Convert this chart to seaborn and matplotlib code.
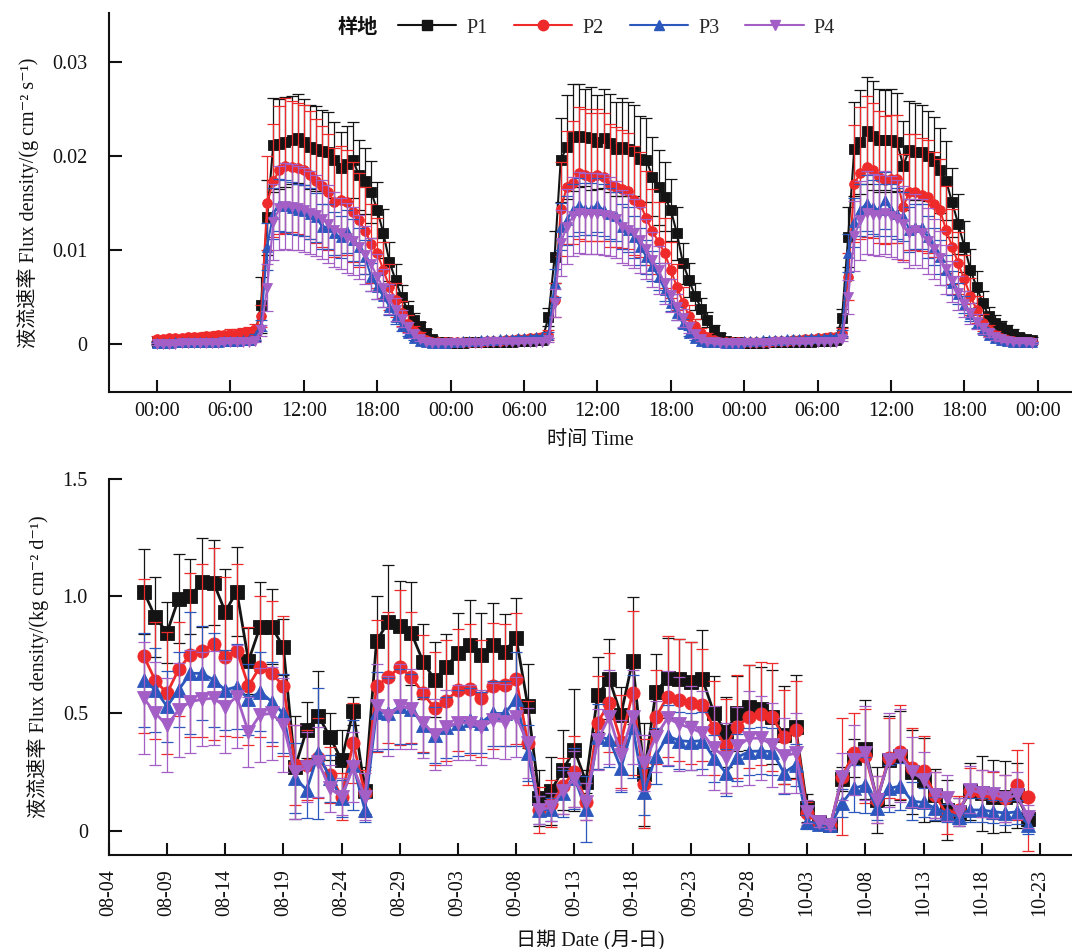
import numpy as np
import pandas as pd
import matplotlib
matplotlib.use("Agg")
import matplotlib.pyplot as plt
import matplotlib.dates as mdates
from matplotlib.lines import Line2D
import seaborn as sns

# ---------------------------------------------------------------------------
# Data
# ---------------------------------------------------------------------------
SITES = ["P1", "P2", "P3", "P4"]
LEGEND_TITLE = "样地"

# Half-hourly sap flux density over three days (units of 1e-4 g cm-2 s-1),
# 48 readings per day from 00:00 to 23:30.
P1_HALFHOUR = [
    2, 2, 2, 2, 3, 3, 3, 3, 3, 4, 4, 4, 4, 5, 5, 5,
    9, 42, 135, 212, 213, 215, 217, 219, 215, 210, 208, 206, 204, 196, 188, 192,
    196, 180, 174, 162, 143, 118, 88, 68, 50, 36, 26, 19, 12, 6, 3, 2,
    1, 1, 1, 2, 2, 2, 2, 3, 3, 3, 3, 4, 4, 4, 5, 5,
    29, 93, 196, 210, 220, 222, 220, 219, 215, 219, 214, 208, 210, 208, 206, 197,
    196, 178, 167, 157, 143, 118, 86, 68, 51, 38, 26, 15, 8, 4, 3, 2,
    1, 1, 1, 1, 2, 2, 2, 2, 3, 3, 3, 3, 4, 4, 4, 5,
    28, 114, 208, 215, 227, 222, 217, 217, 217, 215, 190, 207, 205, 204, 200, 195,
    185, 174, 151, 128, 104, 79, 61, 44, 30, 23, 18, 15, 11, 8, 6, 5,
]
P2_HALFHOUR = [
    6, 6, 7, 7, 7, 8, 8, 8, 9, 9, 10, 10, 11, 11, 12, 13,
    16, 30, 150, 174, 185, 190, 189, 187, 185, 180, 174, 168, 162, 151, 153, 151,
    141, 132, 121, 107, 97, 79, 61, 47, 33, 22, 14, 9, 5, 3, 2, 2,
    2, 2, 2, 3, 3, 3, 4, 4, 4, 5, 5, 6, 6, 7, 7, 8,
    10, 47, 144, 167, 172, 182, 180, 178, 180, 178, 169, 167, 165, 163, 153, 149,
    134, 120, 109, 97, 79, 61, 44, 30, 19, 12, 8, 5, 3, 2, 2, 2,
    2, 2, 3, 3, 3, 4, 4, 4, 5, 5, 6, 6, 7, 7, 8, 8,
    12, 72, 171, 182, 189, 185, 178, 175, 176, 176, 146, 162, 162, 159, 157, 149,
    143, 122, 104, 86, 69, 51, 37, 23, 15, 10, 7, 5, 4, 3, 3, 2,
]
P3_HALFHOUR = [
    1, 1, 1, 2, 2, 2, 2, 3, 3, 3, 3, 4, 4, 4, 5, 5,
    8, 20, 104, 139, 148, 147, 145, 143, 142, 139, 135, 125, 125, 118, 114, 120,
    111, 104, 93, 72, 61, 51, 40, 29, 19, 12, 7, 4, 2, 1, 1, 1,
    3, 3, 4, 4, 4, 5, 5, 5, 6, 6, 6, 7, 7, 7, 8, 8,
    10, 65, 125, 132, 143, 148, 144, 144, 148, 143, 139, 136, 125, 122, 114, 104,
    93, 83, 72, 58, 44, 33, 22, 12, 7, 4, 3, 2, 2, 1, 1, 1,
    4, 4, 4, 5, 5, 5, 5, 6, 6, 6, 6, 7, 7, 7, 8, 8,
    12, 97, 130, 143, 150, 146, 143, 153, 143, 139, 136, 122, 125, 125, 114, 104,
    93, 79, 65, 54, 42, 32, 22, 15, 10, 7, 5, 4, 3, 3, 2, 2,
]
P4_HALFHOUR = [
    0, 0, 0, 0, 1, 1, 1, 1, 1, 1, 1, 2, 2, 2, 2, 2,
    4, 15, 60, 130, 145, 147, 146, 145, 143, 140, 137, 133, 128, 122, 118, 113,
    110, 103, 95, 85, 72, 60, 48, 37, 27, 18, 11, 6, 3, 1, 1, 1,
    1, 1, 1, 1, 1, 1, 2, 2, 2, 2, 2, 2, 3, 3, 3, 3,
    5, 44, 108, 125, 136, 140, 139, 139, 139, 138, 136, 133, 125, 122, 118, 111,
    101, 90, 79, 65, 52, 40, 28, 18, 11, 6, 3, 2, 1, 1, 1, 1,
    1, 1, 1, 1, 1, 2, 2, 2, 2, 2, 2, 3, 3, 3, 3, 3,
    6, 50, 115, 132, 140, 138, 137, 140, 136, 133, 128, 118, 122, 118, 110, 101,
    92, 80, 67, 55, 43, 33, 24, 17, 12, 8, 6, 4, 3, 2, 2, 1,
]

# Standard deviations of the half-hourly values (units of 1e-4 g cm-2 s-1)
P1_HALFHOUR_SD = [
    2, 2, 2, 2, 2, 2, 2, 2, 3, 3, 3, 3, 3, 3, 3, 3,
    5, 30, 40, 50, 48, 48, 47, 47, 46, 45, 45, 43, 43, 40, 38, 40,
    40, 37, 35, 33, 30, 26, 21, 17, 13, 10, 7, 5, 4, 3, 2, 2,
    2, 2, 2, 2, 2, 2, 2, 3, 3, 3, 3, 3, 3, 3, 3, 3,
    10, 28, 45, 55, 57, 55, 52, 55, 50, 53, 52, 50, 52, 50, 48, 46,
    45, 42, 40, 37, 33, 28, 22, 18, 14, 11, 8, 6, 4, 3, 3, 2,
    2, 2, 2, 2, 2, 2, 2, 3, 3, 3, 3, 3, 3, 3, 3, 3,
    10, 32, 50, 55, 57, 58, 55, 53, 55, 52, 47, 52, 52, 50, 48, 47,
    45, 42, 37, 32, 27, 22, 17, 13, 10, 8, 7, 6, 5, 4, 4, 3,
]
P2_HALFHOUR_SD = [
    3, 3, 3, 3, 3, 3, 4, 4, 4, 4, 4, 4, 5, 5, 5, 5,
    6, 12, 50, 60, 68, 72, 70, 70, 70, 68, 66, 64, 62, 58, 58, 56,
    53, 50, 46, 42, 37, 30, 24, 18, 13, 9, 6, 4, 3, 2, 2, 2,
    2, 2, 2, 2, 2, 2, 2, 3, 3, 3, 3, 3, 3, 3, 4, 4,
    5, 18, 50, 60, 65, 70, 70, 68, 70, 68, 65, 64, 63, 62, 58, 56,
    50, 45, 42, 37, 30, 24, 17, 12, 8, 5, 4, 3, 2, 2, 2, 2,
    2, 2, 2, 2, 2, 2, 2, 3, 3, 3, 3, 3, 3, 3, 4, 4,
    5, 25, 62, 70, 75, 72, 70, 68, 68, 68, 56, 62, 62, 60, 60, 56,
    54, 46, 40, 33, 26, 20, 14, 9, 6, 4, 3, 2, 2, 2, 2, 2,
]
P3_HALFHOUR_SD = [
    2, 2, 2, 2, 2, 2, 2, 2, 2, 2, 2, 2, 2, 2, 2, 2,
    3, 6, 25, 27, 28, 28, 28, 27, 27, 27, 26, 24, 24, 23, 22, 23,
    22, 20, 18, 15, 13, 11, 9, 7, 5, 3, 2, 2, 1, 1, 1, 1,
    2, 2, 2, 2, 2, 2, 2, 2, 2, 2, 2, 2, 2, 2, 2, 2,
    3, 15, 25, 26, 28, 29, 28, 28, 29, 28, 27, 26, 24, 24, 22, 20,
    18, 16, 14, 12, 9, 7, 5, 3, 2, 2, 1, 1, 1, 1, 1, 1,
    2, 2, 2, 2, 2, 2, 2, 2, 2, 2, 2, 2, 2, 2, 2, 2,
    3, 20, 26, 28, 30, 29, 28, 30, 28, 27, 26, 24, 24, 24, 22, 20,
    18, 16, 13, 11, 9, 7, 5, 3, 2, 2, 2, 1, 1, 1, 1, 1,
]
P4_HALFHOUR_SD = [
    1, 1, 1, 1, 1, 1, 1, 1, 1, 1, 1, 1, 1, 1, 1, 1,
    2, 6, 25, 40, 45, 46, 46, 45, 45, 44, 43, 42, 41, 40, 38, 37,
    36, 34, 31, 28, 24, 20, 16, 12, 9, 6, 4, 2, 1, 1, 1, 1,
    1, 1, 1, 1, 1, 1, 1, 1, 1, 1, 1, 1, 1, 1, 1, 1,
    2, 15, 35, 40, 42, 43, 43, 43, 43, 43, 42, 41, 39, 38, 37, 35,
    32, 29, 26, 22, 18, 14, 10, 6, 4, 2, 1, 1, 1, 1, 1, 1,
    1, 1, 1, 1, 1, 1, 1, 1, 1, 1, 1, 1, 1, 1, 1, 1,
    2, 18, 37, 42, 44, 43, 43, 44, 43, 42, 40, 37, 38, 37, 35, 32,
    29, 26, 22, 18, 14, 11, 8, 6, 4, 3, 2, 1, 1, 1, 1, 1,
]

# Daily sap flux density, 08-07 .. 10-22 (kg cm-2 d-1)
DAILY_START, DAILY_END = "2000-08-07", "2000-10-22"
P1_DAILY = [
    1.02, 0.91, 0.845, 0.99, 1.00, 1.06, 1.058, 0.934, 1.02, 0.724, 0.87, 0.87, 0.782,
    0.27, 0.43, 0.49, 0.40, 0.30, 0.51, 0.17,
    0.809, 0.889, 0.875, 0.842, 0.721, 0.643, 0.70, 0.757, 0.792, 0.75, 0.792, 0.764, 0.822,
    0.532, 0.138, 0.171, 0.259, 0.344, 0.209, 0.579, 0.646, 0.494, 0.725, 0.24,
    0.593, 0.65, 0.646, 0.636, 0.646, 0.501, 0.422, 0.501, 0.526, 0.52, 0.486, 0.408, 0.444,
    0.096, 0.035, 0.025, 0.22, 0.31, 0.347, 0.131, 0.30, 0.32, 0.25, 0.216, 0.152,
    0.088, 0.08, 0.167, 0.16, 0.145, 0.145, 0.15, 0.05,
]
P2_DAILY = [
    0.745, 0.64, 0.586, 0.688, 0.75, 0.768, 0.796, 0.742, 0.768, 0.617, 0.70, 0.671, 0.617,
    0.28, 0.28, 0.31, 0.238, 0.145, 0.373, 0.16,
    0.617, 0.654, 0.697, 0.654, 0.586, 0.522, 0.555, 0.60, 0.603, 0.565, 0.617, 0.62, 0.648,
    0.373, 0.088, 0.114, 0.19, 0.252, 0.124, 0.461, 0.546, 0.38, 0.586, 0.20,
    0.484, 0.572, 0.558, 0.546, 0.536, 0.437, 0.361, 0.444, 0.486, 0.498, 0.486, 0.398, 0.43,
    0.074, 0.03, 0.024, 0.23, 0.33, 0.319, 0.131, 0.309, 0.337, 0.266, 0.253, 0.152,
    0.067, 0.088, 0.167, 0.16, 0.15, 0.138, 0.195, 0.145,
]
P3_DAILY = [
    0.643, 0.60, 0.53, 0.60, 0.671, 0.671, 0.643, 0.60, 0.614, 0.56, 0.593, 0.55, 0.50,
    0.224, 0.174, 0.33, 0.224, 0.138, 0.28, 0.088,
    0.508, 0.50, 0.53, 0.52, 0.45, 0.408, 0.44, 0.46, 0.47, 0.46, 0.50, 0.50, 0.56,
    0.33, 0.088, 0.091, 0.16, 0.224, 0.091, 0.401, 0.39, 0.266, 0.444, 0.166,
    0.319, 0.404, 0.384, 0.38, 0.384, 0.309, 0.247, 0.313, 0.337, 0.34, 0.337, 0.247, 0.28,
    0.038, 0.03, 0.022, 0.118, 0.18, 0.195, 0.095, 0.18, 0.19, 0.126, 0.12, 0.095,
    0.075, 0.06, 0.088, 0.088, 0.081, 0.075, 0.08, 0.025,
]
P4_DAILY = [
    0.565, 0.50, 0.45, 0.515, 0.55, 0.56, 0.565, 0.529, 0.572, 0.42, 0.494, 0.50, 0.45,
    0.25, 0.27, 0.294, 0.18, 0.145, 0.27, 0.145,
    0.53, 0.49, 0.53, 0.52, 0.46, 0.41, 0.44, 0.46, 0.46, 0.44, 0.47, 0.465, 0.486,
    0.373, 0.088, 0.10, 0.171, 0.22, 0.124, 0.387, 0.486, 0.323, 0.486, 0.288,
    0.401, 0.48, 0.455, 0.437, 0.416, 0.352, 0.309, 0.359, 0.394, 0.394, 0.366, 0.319, 0.33,
    0.081, 0.035, 0.025, 0.23, 0.30, 0.33, 0.131, 0.30, 0.32, 0.25, 0.216, 0.152,
    0.139, 0.08, 0.174, 0.16, 0.155, 0.138, 0.15, 0.06,
]

P1_DAILY_SD = [
    0.18, 0.17, 0.13, 0.19, 0.16, 0.19, 0.18, 0.18, 0.19, 0.14, 0.19, 0.16, 0.12,
    0.22, 0.12, 0.19, 0.10, 0.13, 0.06, 0.10,
    0.19, 0.245, 0.19, 0.22, 0.16, 0.16, 0.14, 0.17, 0.19, 0.18, 0.18, 0.16, 0.17,
    0.18, 0.12, 0.145, 0.17, 0.26, 0.05, 0.16, 0.17, 0.12, 0.27, 0.22,
    0.16, 0.17, 0.17, 0.17, 0.21, 0.16, 0.15, 0.16, 0.18, 0.18, 0.20, 0.21, 0.22,
    0.06, 0.02, 0.02, 0.05, 0.08, 0.21, 0.14, 0.19, 0.19, 0.18, 0.18, 0.11,
    0.13, 0.06, 0.12, 0.16, 0.155, 0.15, 0.14, 0.03,
]
P2_DAILY_SD = [
    0.33, 0.25, 0.26, 0.20, 0.35, 0.37, 0.41, 0.34, 0.37, 0.25, 0.30, 0.31, 0.30,
    0.17, 0.15, 0.17, 0.12, 0.10, 0.17, 0.10,
    0.28, 0.28, 0.33, 0.28, 0.25, 0.24, 0.26, 0.26, 0.28, 0.25, 0.27, 0.26, 0.28,
    0.18, 0.10, 0.10, 0.12, 0.15, 0.08, 0.20, 0.21, 0.20, 0.35, 0.19,
    0.20, 0.26, 0.26, 0.26, 0.24, 0.20, 0.20, 0.22, 0.22, 0.22, 0.23, 0.20, 0.21,
    0.05, 0.02, 0.02, 0.25, 0.17, 0.20, 0.10, 0.17, 0.20, 0.17, 0.15, 0.10,
    0.08, 0.06, 0.10, 0.10, 0.10, 0.10, 0.15, 0.23,
]
P3_DAILY_SD = [
    0.20, 0.18, 0.15, 0.16, 0.26, 0.20, 0.20, 0.17, 0.18, 0.15, 0.17, 0.17, 0.17,
    0.15, 0.12, 0.28, 0.10, 0.08, 0.19, 0.05,
    0.17, 0.15, 0.16, 0.15, 0.12, 0.12, 0.13, 0.14, 0.14, 0.13, 0.14, 0.14, 0.20,
    0.12, 0.06, 0.05, 0.10, 0.13, 0.14, 0.14, 0.12, 0.10, 0.22, 0.10,
    0.12, 0.13, 0.12, 0.12, 0.12, 0.10, 0.10, 0.10, 0.10, 0.10, 0.10, 0.09, 0.09,
    0.03, 0.02, 0.02, 0.06, 0.10, 0.12, 0.05, 0.10, 0.10, 0.08, 0.06, 0.05,
    0.04, 0.03, 0.05, 0.05, 0.05, 0.05, 0.05, 0.04,
]
P4_DAILY_SD = [
    0.24, 0.22, 0.20, 0.20, 0.22, 0.20, 0.20, 0.20, 0.22, 0.15, 0.20, 0.20, 0.20,
    0.20, 0.15, 0.15, 0.10, 0.08, 0.15, 0.10,
    0.18, 0.17, 0.18, 0.17, 0.15, 0.15, 0.16, 0.16, 0.16, 0.16, 0.16, 0.16, 0.17,
    0.15, 0.06, 0.06, 0.10, 0.12, 0.08, 0.13, 0.20, 0.15, 0.20, 0.12,
    0.15, 0.20, 0.20, 0.18, 0.18, 0.18, 0.15, 0.17, 0.20, 0.18, 0.18, 0.16, 0.17,
    0.05, 0.02, 0.02, 0.10, 0.15, 0.20, 0.10, 0.20, 0.20, 0.15, 0.12, 0.10,
    0.10, 0.06, 0.10, 0.10, 0.10, 0.10, 0.10, 0.05,
]

# ---------------------------------------------------------------------------
# Style
# ---------------------------------------------------------------------------
sns.set_style("ticks")
FONT_FAMILY = ["Liberation Serif", "Noto Sans CJK SC", "DejaVu Serif"]
plt.rcParams["font.family"] = FONT_FAMILY
plt.rcParams["axes.unicode_minus"] = False
FS = 14.5

COLORS = ["#141414", "#ee2a2a", "#2c57bd", "#a35fc6"]
MARKERS = ["s", "o", "^", "v"]

fig = plt.figure(figsize=(10.72, 9.49), dpi=100)
W, H = 1072, 949
ax_top = fig.add_axes([108.5 / W, 1 - 392.3 / H, 1 - 108.5 / W, (392.3 - 13.3) / H])
ax_bot = fig.add_axes([108.8 / W, 1 - 855 / H, 1 - 108.8 / W, (855 - 479) / H])


def style_axes(ax):
    for side in ("top", "right"):
        ax.spines[side].set_visible(False)
    for side in ("left", "bottom"):
        ax.spines[side].set_linewidth(1.5)
        ax.spines[side].set_color("#111111")
    ax.tick_params(direction="in", length=9, width=1.5, colors="#111111",
                   labelsize=FS, labelcolor="#111111")
    ax.tick_params(axis="y", pad=15)


# ---------------------------------------------------------------------------
# Top panel: half-hourly flux density
# ---------------------------------------------------------------------------
t0 = pd.Timestamp("2000-01-01 00:00")
times = pd.date_range(t0, periods=len(P1_HALFHOUR), freq="30min")
half_means = [P1_HALFHOUR, P2_HALFHOUR, P3_HALFHOUR, P4_HALFHOUR]
half_sds = [P1_HALFHOUR_SD, P2_HALFHOUR_SD, P3_HALFHOUR_SD, P4_HALFHOUR_SD]

for site, m, s, c, mk in zip(SITES, half_means, half_sds, COLORS, MARKERS):
    mean = np.asarray(m, dtype=float) * 1e-4
    sd = np.asarray(s, dtype=float) * 1e-4
    ax_top.errorbar(times, mean, yerr=sd, fmt="none", ecolor=c,
                    elinewidth=0.9, capsize=4, capthick=0.9)
    sns.lineplot(x=times, y=mean, ax=ax_top, color=c, marker=mk,
                 markersize=7, markeredgecolor=c, markeredgewidth=0.6,
                 linewidth=1.5, legend=False)

style_axes(ax_top)
ax_top.set_ylim(-0.0051, 0.0352)
ax_top.set_yticks([0, 0.01, 0.02, 0.03])
ax_top.set_yticklabels(["0", "0.01", "0.02", "0.03"])
ax_top.set_xlim(t0 - pd.Timedelta(hours=3.97), t0 + pd.Timedelta(hours=74.8))
ax_top.set_xticks(pd.date_range(t0, periods=13, freq="6h"))
ax_top.xaxis.set_major_formatter(mdates.DateFormatter("%H:%M"))
ax_top.tick_params(axis="x", pad=7)
ax_top.set_xlabel("时间 Time", fontsize=FS, labelpad=7, color="#111111")
ax_top.set_ylabel("液流速率 Flux density/(g cm⁻² s⁻¹)", fontsize=FS,
                  labelpad=10, color="#111111")

# ---------------------------------------------------------------------------
# Bottom panel: daily flux density
# ---------------------------------------------------------------------------
dates = pd.date_range(DAILY_START, DAILY_END, freq="D")
daily_means = [P1_DAILY, P2_DAILY, P3_DAILY, P4_DAILY]
daily_sds = [P1_DAILY_SD, P2_DAILY_SD, P3_DAILY_SD, P4_DAILY_SD]

for site, m, s, c, mk in zip(SITES, daily_means, daily_sds, COLORS, MARKERS):
    ax_bot.errorbar(dates, m, yerr=s, fmt="none", ecolor=c,
                    elinewidth=0.9, capsize=4, capthick=0.9)
    sns.lineplot(x=dates, y=m, ax=ax_bot, color=c, marker=mk,
                 markersize=9.5, markeredgecolor=c, markeredgewidth=0.6,
                 linewidth=2.0, legend=False)

style_axes(ax_bot)
d0 = pd.Timestamp("2000-08-04")
ax_bot.set_ylim(-0.104, 1.5)
ax_bot.set_yticks([0, 0.5, 1.0, 1.5])
ax_bot.set_yticklabels(["0", "0.5", "1.0", "1.5"])
ax_bot.set_xlim(d0, d0 + pd.Timedelta(days=82.75))
ax_bot.set_xticks(pd.date_range(d0, periods=17, freq="5D"))
ax_bot.xaxis.set_major_formatter(mdates.DateFormatter("%m-%d"))
ax_bot.tick_params(axis="x", pad=10, labelrotation=90)
ax_bot.set_xlabel("日期 Date (月-日)", fontsize=FS, labelpad=10, color="#111111")
ax_bot.set_ylabel("液流速率 Flux density/(kg cm⁻² d⁻¹)", fontsize=FS,
                  labelpad=10, color="#111111")

# ---------------------------------------------------------------------------
# Legend across the top
# ---------------------------------------------------------------------------
handles = [Line2D([0], [0], color=c, marker=mk, markersize=7.5, linewidth=1.5,
                  markeredgecolor=c) for c, mk in zip(COLORS, MARKERS)]
fig.legend(handles, SITES, ncol=4, loc="center",
           bbox_to_anchor=(616.5 / W, 1 - 28 / H), frameon=False,
           fontsize=FS, handlelength=2.9, handletextpad=0.5,
           columnspacing=1.3, numpoints=1)
fig.text(358 / W, 1 - 28 / H, LEGEND_TITLE, ha="center", va="center",
         fontsize=FS, fontweight="bold", color="#111111")

fig.savefig("out.png", dpi=100, facecolor="white")
